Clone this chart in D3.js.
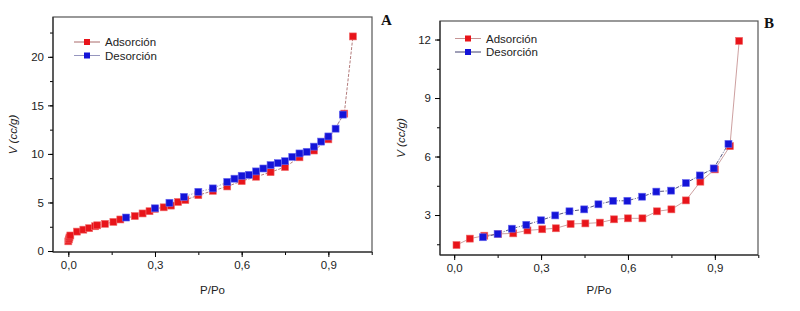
<!DOCTYPE html>
<html>
<head>
<meta charset="utf-8">
<script src="https://cdn.jsdelivr.net/npm/d3@7"></script>
<style>
  body { margin: 0; background: #fff; }
  svg text { font-family: "Liberation Sans", Arial, sans-serif; }
  svg text.letter { font-family: "Liberation Serif", "Times New Roman", serif; font-weight: bold; }
</style>
</head>
<body>
<svg id="chart" width="800" height="311"></svg>
<script>
// Panel A data (P/Po, V cc/g)
const adsA_x = [0.0, 0.002, 0.004, 0.007, 0.03, 0.052, 0.072, 0.093, 0.1, 0.127, 0.156, 0.18, 0.23, 0.257, 0.281, 0.3, 0.33, 0.355, 0.38, 0.405, 0.45, 0.5, 0.55, 0.6, 0.65, 0.7, 0.75, 0.8, 0.85, 0.9, 0.955, 0.985];
const adsA_y = [1.0, 1.2, 1.4, 1.6, 2.0, 2.2, 2.35, 2.55, 2.65, 2.8, 3.0, 3.25, 3.6, 3.87, 4.1, 4.35, 4.5, 4.68, 5.05, 5.25, 5.75, 6.2, 6.65, 7.2, 7.65, 8.12, 8.65, 9.65, 10.35, 11.5, 14.15, 22.1];
const desA_x = [0.2, 0.3, 0.35, 0.4, 0.45, 0.5, 0.55, 0.575, 0.6, 0.625, 0.65, 0.675, 0.7, 0.725, 0.75, 0.775, 0.8, 0.825, 0.85, 0.875, 0.9, 0.925, 0.95];
const desA_y = [3.45, 4.4, 4.97, 5.58, 6.1, 6.45, 7.12, 7.45, 7.75, 7.85, 8.2, 8.5, 8.85, 9.05, 9.25, 9.7, 10.05, 10.22, 10.75, 11.27, 11.8, 12.6, 14.05];

// Panel B data
const adsB_x = [0.008, 0.054, 0.104, 0.152, 0.204, 0.253, 0.304, 0.351, 0.402, 0.453, 0.503, 0.552, 0.6, 0.65, 0.7, 0.75, 0.8, 0.85, 0.9, 0.952, 0.984];
const adsB_y = [1.46, 1.79, 1.94, 2.03, 2.06, 2.21, 2.27, 2.32, 2.54, 2.57, 2.61, 2.78, 2.83, 2.83, 3.19, 3.29, 3.75, 4.71, 5.34, 6.53, 11.93];
const desB_x = [0.099, 0.15, 0.199, 0.249, 0.3, 0.349, 0.398, 0.449, 0.498, 0.549, 0.598, 0.649, 0.698, 0.749, 0.8, 0.848, 0.896, 0.947];
const desB_y = [1.86, 2.03, 2.3, 2.5, 2.73, 2.98, 3.19, 3.29, 3.55, 3.73, 3.73, 3.94, 4.2, 4.25, 4.64, 5.03, 5.39, 6.65];

const xTicks = [0, 0.3, 0.6, 0.9];
const xTickLabels = ["0,0", "0,3", "0,6", "0,9"];
const yTicksA = [0, 5, 10, 15, 20];
const yTicksB = [3, 6, 9, 12];
const seriesNames = ["Adsorción", "Desorción"];

const svg = d3.select("#chart");
const redFill = "#e8141a", blueFill = "#1414d8";

function zip(xs, ys) { return xs.map((x, i) => ({x: x, y: ys[i]})); }

function drawPanel(p) {
    let g = svg.append("g");
    let x = d3.scaleLinear().domain(p.xDomain).range([p.left, p.right]);
    let y = d3.scaleLinear().domain(p.yDomain).range([p.bottom, p.top]);

    // frame
    g.append("rect")
        .attr("x", p.left).attr("y", p.top)
        .attr("width", p.right - p.left).attr("height", p.bottom - p.top)
        .attr("fill", "none").attr("stroke", "#555").attr("stroke-width", 1.2);

    // minor ticks
    let xMinor = d3.range(0, 1.06, 0.15);
    g.append("g")
        .attr("transform", `translate(0,${p.bottom})`)
        .call(d3.axisBottom(x).tickValues(xMinor).tickSize(3).tickFormat(""))
        .call(a => a.select(".domain").remove());
    g.append("g")
        .attr("transform", `translate(${p.left},0)`)
        .call(d3.axisLeft(y).tickValues(p.yMinor).tickSize(3).tickFormat(""))
        .call(a => a.select(".domain").remove());

    // major axes
    let xa = g.append("g")
        .attr("transform", `translate(0,${p.bottom})`)
        .call(d3.axisBottom(x).tickValues(xTicks).tickSize(5).tickPadding(4)
            .tickFormat((d, i) => xTickLabels[i]));
    xa.select(".domain").attr("d", `M${p.left},0H${p.right}`).attr("stroke", "#222");
    xa.selectAll("text").attr("font-size", 11.5).attr("fill", "#222");

    let ya = g.append("g")
        .attr("transform", `translate(${p.left},0)`)
        .call(d3.axisLeft(y).tickValues(p.yTicks).tickSize(5).tickPadding(4));
    ya.select(".domain").attr("d", `M0,${p.top}V${p.bottom}`).attr("stroke", "#222");
    ya.selectAll("text").attr("font-size", 11.5).attr("fill", "#222");

    // axis titles
    g.append("text")
        .attr("x", (p.left + p.right) / 2).attr("y", 294)
        .attr("text-anchor", "middle").attr("font-size", 11.5).attr("fill", "#222")
        .text("P/Po");
    g.append("text")
        .attr("transform", `translate(${p.yLabelX},${(p.top + p.bottom) / 2}) rotate(-90)`)
        .attr("text-anchor", "middle").attr("font-size", 11.5).attr("fill", "#222")
        .attr("font-style", "italic")
        .text("V (cc/g)");

    // panel letter
    g.append("text")
        .attr("class", "letter")
        .attr("x", p.letterX).attr("y", p.letterY)
        .attr("font-size", 15).attr("fill", "#111")
        .text(p.letter);

    let line = d3.line().x(d => x(d.x)).y(d => y(d.y));
    let ads = zip(p.adsX, p.adsY), des = zip(p.desX, p.desY);

    g.append("path").datum(ads).attr("d", line)
        .attr("fill", "none").attr("stroke", p.adsLine).attr("stroke-width", 0.8)
        .attr("stroke-dasharray", p.adsDash);
    g.append("path").datum(des).attr("d", line)
        .attr("fill", "none").attr("stroke", p.desLine).attr("stroke-width", 0.8)
        .attr("stroke-dasharray", p.desDash);

    const s = 7;
    g.append("g").selectAll("rect").data(ads).enter().append("rect")
        .attr("x", d => x(d.x) - s / 2).attr("y", d => y(d.y) - s / 2)
        .attr("width", s).attr("height", s)
        .attr("fill", redFill).attr("stroke", "#f06a6a").attr("stroke-width", 0.6);
    g.append("g").selectAll("rect").data(des).enter().append("rect")
        .attr("x", d => x(d.x) - s / 2).attr("y", d => y(d.y) - s / 2)
        .attr("width", s).attr("height", s)
        .attr("fill", blueFill).attr("stroke", "#6a6af0").attr("stroke-width", 0.6);

    // legend
    let leg = [
        {name: seriesNames[0], fill: redFill, line: p.adsLine, dash: p.adsDash},
        {name: seriesNames[1], fill: blueFill, line: p.desLine, dash: p.desDash}
    ];
    leg.forEach((l, i) => {
        let ly = p.legY + i * 13.5;
        g.append("line")
            .attr("x1", p.legX - 13).attr("x2", p.legX + 13)
            .attr("y1", ly).attr("y2", ly)
            .attr("stroke", l.line).attr("stroke-width", 0.9);
        g.append("rect")
            .attr("x", p.legX - 3).attr("y", ly - 3).attr("width", 6).attr("height", 6)
            .attr("fill", l.fill);
        g.append("text")
            .attr("x", p.legX + 18).attr("y", ly + 4)
            .attr("font-size", 11.5).attr("fill", "#222")
            .text(l.name);
    });
}

drawPanel({
    left: 53, right: 372, top: 17, bottom: 252,
    xDomain: [-0.053, 1.051], yDomain: [-0.1, 24.1],
    yTicks: yTicksA, yMinor: d3.range(0, 24, 2.5),
    adsX: adsA_x, adsY: adsA_y, desX: desA_x, desY: desA_y,
    adsLine: "#a05a5a", adsDash: "3,1.5", desLine: "#8a8ab8", desDash: "1.5,1.5",
    yLabelX: 17, letter: "A", letterX: 381, letterY: 25,
    legX: 87, legY: 42
});

drawPanel({
    left: 440, right: 758, top: 21, bottom: 255,
    xDomain: [-0.049, 1.049], yDomain: [0.95, 12.95],
    yTicks: yTicksB, yMinor: d3.range(1.5, 12.9, 1.5),
    adsX: adsB_x, adsY: adsB_y, desX: desB_x, desY: desB_y,
    adsLine: "#c08888", adsDash: null, desLine: "#2a2a60", desDash: "4,1.5,1,1.5",
    yLabelX: 405, letter: "B", letterX: 764, letterY: 28,
    legX: 468, legY: 38.5
});
</script>
</body>
</html>
